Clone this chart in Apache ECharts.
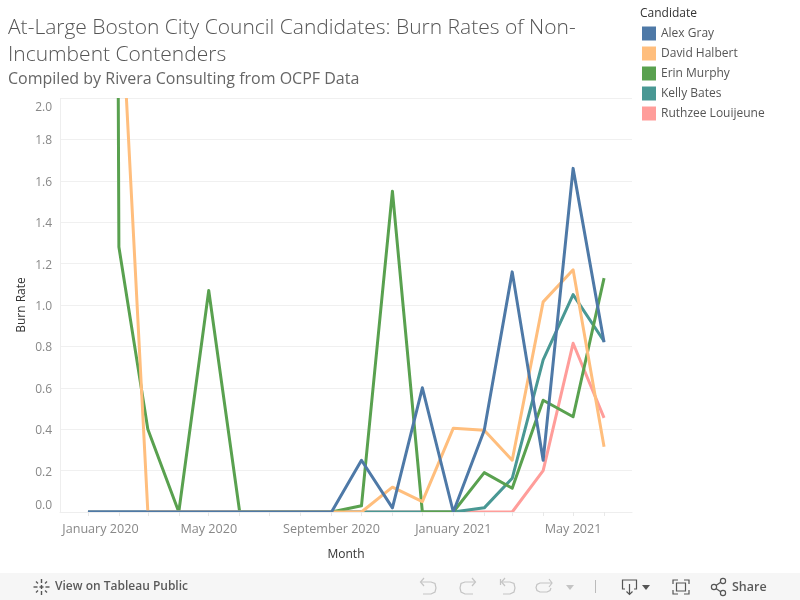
<!DOCTYPE html>
<html><head><meta charset="utf-8">
<style>html,body{margin:0;padding:0;background:#fff}#c{width:800px;height:600px}</style>
<script src="https://cdn.jsdelivr.net/npm/echarts@6/dist/echarts.min.js"></script>
</head><body><div id="c"></div>
<script>
const months = ['2020-01-01','2020-02-01','2020-03-01','2020-04-01','2020-05-01','2020-06-01','2020-07-01','2020-08-01','2020-09-01','2020-10-01','2020-11-01','2020-12-01','2021-01-01','2021-02-01','2021-03-01','2021-04-01','2021-05-01','2021-06-01'];
const labelMonths = ['2020-01-01','2020-05-01','2020-09-01','2021-01-01','2021-05-01'];
const candidates = ['Alex Gray','David Halbert','Erin Murphy','Kelly Bates','Ruthzee Louijeune'];
const alexGray = [0,0,0,0,0,0,0,0,0,0.25,0.02,0.60,0,0.395,1.16,0.25,1.66,0.82];
const davidHalbert = [null,2.7,0,0,0,0,0,0,0,0,0.12,0.05,0.405,0.395,0.25,1.015,1.17,0.315];
const erinMurphy = [37,1.28,0.40,0,1.07,0,0,0,0,0.03,1.55,0,0,0.19,0.115,0.54,0.46,1.13];
const kellyBates = [0,0,0,0,0,0,0,0,0,0,0,0,0,0.02,0.163,0.735,1.05,0.825];
const ruthzee = [0,0,0,0,0,0,0,0,0,0,0,0,0,0,0,0.2,0.815,0.455];
const seriesValues = [alexGray,davidHalbert,erinMurphy,kellyBates,ruthzee];
const colors = ['#4e79a7','#ffbe7d','#59a14f','#499894','#ff9d9a'];
const titleText = 'At-Large Boston City Council Candidates: Burn Rates of Non-\nIncumbent Contenders';
const subtitleText = 'Compiled by Rivera Consulting from OCPF Data';
const font = '"Open Sans", Lato, sans-serif';
const monthNames = ['January','February','March','April','May','June','July','August','September','October','November','December'];
const ts = s => { const p = s.split('-'); return new Date(+p[0], +p[1]-1, +p[2]).getTime(); };
const chart = echarts.init(document.getElementById('c'), null, {renderer:'canvas'});

const iconLight = '#c4c4c4', iconDark = '#555';
const pl = (points,c,w) => ({type:'polyline',shape:{points},style:{stroke:c,lineWidth:w||1.2,fill:null}});
const footer = [
  {type:'rect',shape:{x:60,y:512.5,width:572,height:4},style:{fill:'#fff'},silent:true,z:50},
  {type:'rect',shape:{x:60,y:94,width:572,height:4},style:{fill:'#fff'},silent:true,z:50},
  {type:'rect',shape:{x:0,y:573,width:800,height:27},style:{fill:'#f6f6f6'},silent:true},
  {type:'text',x:55,y:587,style:{text:'View on Tableau Public',font:'600 12px '+font,fill:'#5a5a5a',verticalAlign:'middle'}},
  {type:'text',x:732,y:587,style:{text:'Share',font:'600 12.5px '+font,fill:'#5a5a5a',verticalAlign:'middle'}},
  pl([[41.5,579],[41.5,583]],iconDark,1.4),pl([[41.5,585],[41.5,589]],iconDark,1.4),pl([[41.5,591],[41.5,595]],iconDark,1.4),
  pl([[33.5,587],[37.5,587]],iconDark,1.4),pl([[39.5,587],[43.5,587]],iconDark,1.4),pl([[45.5,587],[49.5,587]],iconDark,1.4),
  pl([[36,581.5],[38,583.5]],iconDark,1.2),pl([[47,581.5],[45,583.5]],iconDark,1.2),pl([[36,592.5],[38,590.5]],iconDark,1.2),pl([[47,592.5],[45,590.5]],iconDark,1.2),
  pl([[424,578],[420.5,582],[424,586]],iconLight),pl([[421,582],[431,582],[435,583.5],[436,588],[435,592],[431,594],[423,594]],iconLight),
  pl([[472,578],[475.5,582],[472,586]],iconLight),pl([[475,582],[465,582],[461,583.5],[460,588],[461,592],[465,594],[473,594]],iconLight),
  pl([[500.5,579],[500.5,585]],iconLight),pl([[505,578],[501.5,582],[505,586]],iconLight),pl([[502,582],[510,582],[514,583.5],[515,588],[514,592],[510,594],[503,594]],iconLight),
  pl([[549,579],[552,583],[549,587]],iconLight),pl([[552,583],[540,583],[537,584.5],[536,587.5],[537,590.5],[540,592],[547,592],[550,590.5],[551,588]],iconLight),
  {type:'polygon',shape:{points:[[566,585],[574,585],[570,590]]},style:{fill:iconLight}},
  {type:'line',shape:{x1:595.5,y1:580,x2:595.5,y2:593},style:{stroke:'#bbb',lineWidth:1}},
  pl([[625,589],[622.5,589],[622.5,580],[636.5,580],[636.5,589],[634,589]],iconDark),pl([[629.5,584],[629.5,594]],iconDark),pl([[626.5,591.5],[629.5,594.5],[632.5,591.5]],iconDark),
  {type:'polygon',shape:{points:[[642,585],[650,585],[646,590]]},style:{fill:iconDark}},
  pl([[673,584],[673,580],[678,580]],iconDark),pl([[684,580],[689,580],[689,584]],iconDark),pl([[689,590],[689,594],[684,594]],iconDark),pl([[678,594],[673,594],[673,590]],iconDark),
  {type:'rect',shape:{x:676.5,y:583,width:9,height:8},style:{stroke:iconDark,lineWidth:1.2,fill:null}},
  pl([[716,585.5],[721,582]],iconDark),pl([[716,588.5],[721,592]],iconDark),
  {type:'circle',shape:{cx:714,cy:587,r:2.6},style:{stroke:iconDark,lineWidth:1.2,fill:null}},
  {type:'circle',shape:{cx:723,cy:581,r:2.6},style:{stroke:iconDark,lineWidth:1.2,fill:null}},
  {type:'circle',shape:{cx:723,cy:593,r:2.6},style:{stroke:iconDark,lineWidth:1.2,fill:null}}
];
const xLabelStyle = {color:'#888',fontSize:12.6,fontFamily:font};
const yLabelStyle = {color:'#888',fontSize:12,fontFamily:font};

chart.setOption({
  animation:false,
  backgroundColor:'#fff',
  textStyle:{fontFamily:font},
  title:[
    {text:titleText,left:8,top:14.5,padding:0,textStyle:{fontSize:21,fontWeight:300,color:'#555',lineHeight:27,fontFamily:font}},
    {text:subtitleText,left:8,top:71,padding:0,textStyle:{fontSize:16,fontWeight:400,color:'#666',fontFamily:font}},
    {text:'Candidate',left:640,top:8,padding:0,textStyle:{fontSize:12,fontWeight:400,color:'#333',fontFamily:font}}
  ],
  legend:{
    data:candidates,orient:'vertical',left:642,top:26.5,padding:0,icon:'rect',itemWidth:14,itemHeight:14,itemGap:6,
    textStyle:{fontSize:12,color:'#555',fontFamily:font},selectedMode:false
  },
  grid:{left:60,right:168,top:98,bottom:88},
  xAxis:{
    type:'value',scale:true,z:60,
    min:ts('2019-12-04'),max:ts('2021-06-29'),
    name:'Month',nameLocation:'middle',nameGap:37,nameMoveOverlap:false,
    nameTextStyle:{fontSize:12,color:'#333',fontFamily:font},
    axisLine:{show:true,lineStyle:{color:'#eee',width:1}},
    axisTick:{show:true,length:4,lineStyle:{color:'#e8e8e8'},customValues:months.map(ts)},
    axisLabel:{
      show:true,margin:11,...xLabelStyle,
      customValues:labelMonths.map(ts),
      rich:{first:{...xLabelStyle,padding:[0,0,0,25]},other:xLabelStyle},
      formatter:v=>{const d=new Date(v);const t=monthNames[d.getMonth()]+' '+d.getFullYear();
        return (v===ts(labelMonths[0])?'{first|':'{other|')+t+'}';}
    },
    splitLine:{show:false}
  },
  yAxis:{
    type:'value',min:0,max:2,interval:0.2,
    name:'Burn Rate',nameLocation:'middle',nameGap:32,nameMoveOverlap:false,
    nameTextStyle:{fontSize:12,color:'#333',fontFamily:font},
    axisLine:{show:true,lineStyle:{color:'#eee',width:1}},
    axisTick:{show:false},
    axisLabel:{
      margin:8,...yLabelStyle,
      verticalAlignMinLabel:'bottom',verticalAlignMaxLabel:'top',
      rich:{top:{...yLabelStyle,padding:[4,0,0,0]},mid:{...yLabelStyle,padding:[3,0,0,0]},low:yLabelStyle},
      formatter:v=>{const s=v.toFixed(1);return (v>=2?'{top|':v<=0?'{low|':'{mid|')+s+'}';}
    },
    splitLine:{show:true,lineStyle:{color:'#f0f0f0',width:1}}
  },
  series:candidates.map((name,i)=>({
    name,type:'line',
    data:months.map((m,j)=>[ts(m),seriesValues[i][j]]),
    showSymbol:false,symbol:'none',clip:true,connectNulls:false,
    z:10+candidates.length-i,
    lineStyle:{color:colors[i],width:3,join:'round',cap:'butt'},
    itemStyle:{color:colors[i]}
  })),
  graphic:footer
});
</script></body></html>
